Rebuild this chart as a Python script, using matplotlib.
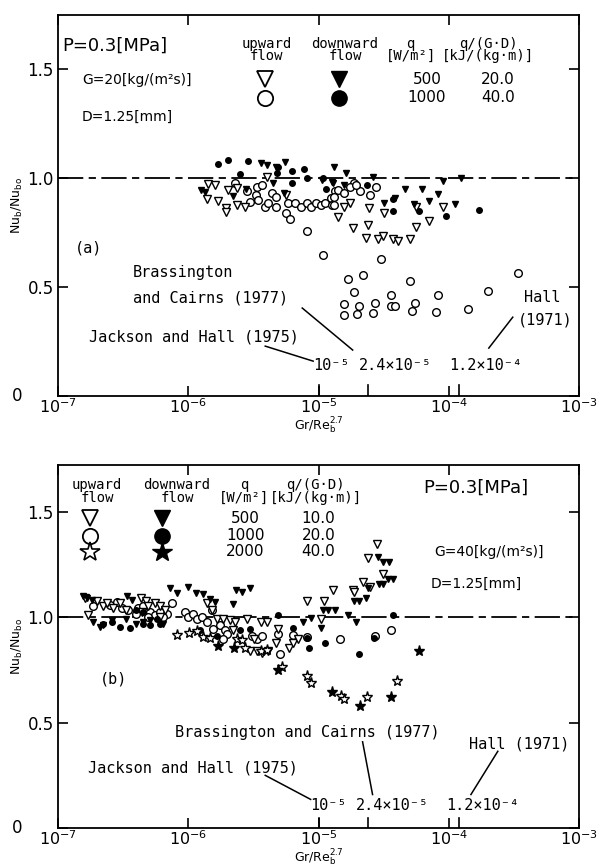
import matplotlib
matplotlib.use("Agg")
import matplotlib.pyplot as plt

# ---------------- panel (a) data : G=20 ----------------
a_up500_x = [1.42e-6, 1.6e-6, 1.4e-6, 1.7e-6, 1.96e-6, 1.96e-6, 2.38e-6, 2.75e-6, 2.03e-6, 2.38e-6,
             4.05e-6, 5.6e-6, 1.56e-5, 1.76e-5, 1.4e-5, 2.46e-5, 3.2e-5, 5.6e-5, 9.1e-5, 7.0e-5,
             1.83e-5, 2.38e-5, 5.6e-5, 2.3e-5, 2.84e-5, 3.1e-5, 3.7e-5, 4.05e-5, 5.0e-5]
a_up500_y = [0.972, 0.968, 0.904, 0.894, 0.862, 0.844, 0.876, 0.867, 0.945, 0.954,
             1.005, 0.922, 0.867, 0.885, 0.821, 0.862, 0.839, 0.867, 0.867, 0.803,
             0.771, 0.784, 0.775, 0.725, 0.720, 0.734, 0.720, 0.711, 0.720]

a_dn500_x = [3.6e-6, 4.0e-6, 4.7e-6, 5.5e-6, 1.31e-5, 4.5e-6, 5.4e-6, 2.2e-6, 1.35e-6, 1.26e-6,
             1.28e-5, 1.07e-5, 2.8e-6, 1.64e-5, 2.6e-5, 9.1e-5, 1.24e-4, 4.6e-5, 6.2e-5, 8.2e-5,
             3.2e-5, 3.9e-5, 5.4e-5, 7.1e-5, 1.11e-4, 1.3e-5, 1.56e-5]
a_dn500_y = [1.069, 1.060, 1.050, 1.073, 1.050, 0.977, 0.931, 0.917, 0.936, 0.945,
             0.982, 0.991, 0.950, 1.023, 1.005, 0.986, 1.0, 0.950, 0.950, 0.927,
             0.885, 0.908, 0.881, 0.894, 0.881, 0.977, 0.968]

a_up1000_x = [2.3e-6, 2.84e-6, 3.4e-6, 3.7e-6, 3.3e-6, 4.4e-6, 4.7e-6, 3.9e-6, 4.1e-6, 4.75e-6,
              5.8e-6, 5.6e-6, 6.0e-6, 6.6e-6, 7.3e-6, 8.2e-6, 8.7e-6, 9.5e-6, 1.04e-5, 1.13e-5,
              1.24e-5, 1.28e-5, 1.35e-5, 3.0e-6, 3.45e-6, 8.2e-6, 1.09e-5, 1.86e-5, 1.76e-5, 1.4e-5,
              1.56e-5, 2.07e-5, 1.31e-5, 2.5e-5, 2.75e-5, 1.93e-5, 1.31e-5, 3.0e-5, 2.2e-5, 1.67e-5,
              5.0e-5, 3.4e-4, 1.86e-5, 2.0e-4, 1.56e-5, 2.03e-5, 2.7e-5, 3.6e-5, 3.6e-5, 3.85e-5,
              5.5e-5, 8.2e-5, 1.4e-4, 1.56e-5, 1.96e-5, 2.6e-5, 5.2e-5, 8.0e-5]
a_up1000_y = [0.977, 0.940, 0.959, 0.968, 0.922, 0.931, 0.913, 0.867, 0.885, 0.867,
              0.885, 0.839, 0.812, 0.885, 0.867, 0.885, 0.867, 0.885, 0.876, 0.885,
              0.908, 0.876, 0.940, 0.890, 0.899, 0.757, 0.647, 0.977, 0.959, 0.945,
              0.931, 0.940, 0.913, 0.922, 0.959, 0.968, 0.876, 0.628, 0.555, 0.537,
              0.528, 0.564, 0.477, 0.482, 0.422, 0.413, 0.427, 0.463, 0.413, 0.413,
              0.427, 0.463, 0.399, 0.372, 0.376, 0.381, 0.390, 0.385]

a_dn1000_x = [1.7e-6, 2.03e-6, 2.89e-6, 6.3e-6, 7.8e-6, 4.9e-6, 4.8e-6, 2.5e-6, 6.3e-6, 8.1e-6,
              1.09e-5, 1.15e-5, 2.34e-5, 3.7e-5, 3.7e-5, 5.9e-5, 9.6e-5, 1.7e-4]
a_dn1000_y = [1.064, 1.083, 1.078, 1.032, 1.041, 1.050, 1.023, 1.018, 0.977, 1.0,
              1.0, 0.950, 0.968, 0.904, 0.849, 0.849, 0.826, 0.853]

# ---------------- panel (b) data : G=40 ----------------
b_up500_x = [1.6e-7, 2.0e-7, 2.2e-7, 2.38e-7, 2.65e-7, 1.7e-7, 3.0e-7, 4.3e-7, 4.7e-7, 4.9e-7,
             5.6e-7, 6.1e-7, 6.6e-7, 6.1e-7, 4.4e-7, 3.3e-7, 1.4e-6, 1.53e-6, 1.67e-6, 1.86e-6,
             2.1e-6, 2.3e-6, 2.84e-6, 3.6e-6, 4.05e-6, 3.0e-6, 3.4e-6, 3.7e-6, 4.1e-6, 4.7e-6,
             5.9e-6, 6.4e-6, 7.0e-6, 4.9e-6, 3.2e-6, 2.2e-6, 8.2e-6, 1.11e-5, 1.3e-5, 1.83e-5,
             2.2e-5, 2.38e-5, 2.8e-5, 3.1e-5, 2.5e-5, 1.04e-5, 1.86e-5]
b_up500_y = [1.091, 1.077, 1.055, 1.068, 1.045, 1.009, 1.068, 1.091, 1.077, 1.055,
             1.068, 1.055, 1.036, 1.0, 1.023, 1.032, 1.068, 1.036, 0.991, 0.991,
             0.986, 0.977, 0.991, 0.977, 0.977, 0.841, 0.841, 0.832, 0.841, 0.877,
             0.855, 0.877, 0.895, 0.945, 0.895, 0.941, 1.077, 1.077, 1.127, 1.127,
             1.168, 1.282, 1.345, 1.205, 1.145, 0.991, 1.118]

b_dn500_x = [1.56e-7, 1.67e-7, 1.83e-7, 3.4e-7, 3.7e-7, 7.3e-7, 8.2e-7, 1.0e-6, 1.15e-6, 1.3e-6,
             1.48e-6, 1.6e-6, 2.2e-6, 2.34e-6, 2.6e-6, 3.0e-6, 2.1e-7, 2.2e-7, 2.6e-7, 3.3e-7,
             4.0e-7, 4.5e-7, 5.1e-7, 6.4e-7, 1.86e-7, 7.6e-6, 8.7e-6, 1.05e-5, 1.09e-5, 1.19e-5,
             1.35e-5, 1.67e-5, 1.93e-5, 1.86e-5, 2.03e-5, 2.3e-5, 2.38e-5, 2.9e-5, 3.1e-5, 3.4e-5,
             3.7e-5, 2.84e-5, 3.1e-5, 3.5e-5]
b_dn500_y = [1.100, 1.091, 1.082, 1.100, 1.082, 1.136, 1.114, 1.145, 1.114, 1.109,
             1.086, 1.073, 1.064, 1.127, 1.118, 1.136, 0.955, 0.964, 0.986, 0.991,
             0.968, 0.977, 0.986, 0.968, 0.977, 0.977, 0.995, 0.950, 1.036, 1.036,
             1.036, 1.009, 0.977, 1.077, 1.077, 1.091, 1.136, 1.159, 1.159, 1.182,
             1.182, 1.286, 1.259, 1.259]

b_up1000_x = [1.86e-7, 2.5e-7, 2.84e-7, 3.1e-7, 3.45e-7, 4.1e-7, 4.5e-7, 5.1e-7, 5.6e-7, 6.1e-7,
              6.9e-7, 7.5e-7, 9.5e-7, 1.0e-6, 1.09e-6, 1.17e-6, 1.28e-6, 1.4e-6, 1.53e-6, 1.56e-6,
              1.76e-6, 1.93e-6, 2.0e-6, 1.86e-6, 3.1e-6, 3.4e-6, 3.7e-6, 4.9e-6, 5.1e-6, 4.0e-7,
              4.9e-7, 6.4e-7, 6.4e-6, 8.2e-6, 1.45e-5, 2.7e-5, 3.6e-5]
b_up1000_y = [1.055, 1.059, 1.073, 1.045, 1.036, 1.045, 1.055, 1.023, 1.009, 1.023,
              1.014, 1.068, 1.023, 1.0, 1.014, 0.991, 1.0, 0.977, 1.032, 0.945,
              0.964, 0.941, 0.918, 0.895, 0.909, 0.895, 0.909, 0.918, 0.827, 1.014,
              1.0, 1.0, 0.914, 0.905, 0.895, 0.909, 0.941]

b_dn1000_x = [2.2e-7, 2.6e-7, 3.0e-7, 3.6e-7, 4.5e-7, 5.1e-7, 5.8e-7, 6.1e-7, 4.0e-7, 4.5e-7,
              1.24e-6, 1.67e-6, 2.5e-6, 3.0e-6, 4.85e-6, 6.4e-6, 8.2e-6, 8.5e-6, 1.13e-5, 2.03e-5,
              2.65e-5, 3.7e-5]
b_dn1000_y = [0.968, 0.977, 0.955, 0.950, 0.968, 0.964, 0.991, 0.968, 1.032, 1.023,
              0.941, 0.909, 0.941, 0.945, 1.009, 0.950, 0.900, 0.855, 0.877, 0.827,
              0.900, 1.009]

b_up2000_x = [8.2e-7, 1.02e-6, 1.17e-6, 1.3e-6, 1.48e-6, 2.38e-6, 2.6e-6, 2.75e-6, 3.6e-6, 4.05e-6,
              5.2e-6, 8.2e-6, 8.8e-6, 1.48e-5, 1.58e-5, 2.34e-5, 4.0e-5]
b_up2000_y = [0.914, 0.923, 0.932, 0.905, 0.900, 0.895, 0.891, 0.855, 0.841, 0.845,
              0.764, 0.723, 0.686, 0.627, 0.614, 0.623, 0.695]

b_dn2000_x = [1.7e-6, 2.26e-6, 4.9e-6, 1.26e-5, 2.1e-5, 3.6e-5, 5.9e-5]
b_dn2000_y = [0.864, 0.855, 0.750, 0.645, 0.577, 0.623, 0.841]

# reference Gr/Re^2.7 criteria marked on the axis
criteria = [1e-5, 2.4e-5, 1.2e-4]

mono = "DejaVu Sans Mono"
plt.rcParams["font.family"] = "DejaVu Sans"


def pts(ax, x, y, marker, filled, ms):
    ax.plot(x, y, ls="none", marker=marker, ms=ms, mec="black",
            mfc="black" if filled else "white", mew=1.0)


def setup(ax, top):
    ax.set_xscale("log")
    ax.set_xlim(1e-7, 1e-3)
    ax.set_ylim(0, top)
    ax.set_xticks([1e-7, 1e-6, 1e-5, 1e-4, 1e-3])
    ax.set_xticklabels(["$10^{-7}$", "$10^{-6}$", "$10^{-5}$", "$10^{-4}$", "$10^{-3}$"])
    ax.minorticks_off()
    ax.set_yticks([0, 0.5, 1.0, 1.5])
    ax.set_yticklabels(["", "0.5", "1.0", "1.5"])
    ax.tick_params(direction="in", length=7, width=1.2, top=True, right=True,
                   labelsize=12, pad=3)
    ax.tick_params(axis="x", pad=1, labelsize=11.5)
    for s in ax.spines.values():
        s.set_linewidth(1.3)
    ax.text(-0.068, 0.0, "0", transform=ax.transAxes, fontsize=12, ha="right", va="center")
    ax.axhline(1.0, color="black", lw=1.3, ls=(0, (14, 3, 4, 3)), zorder=1)
    ax.set_xlabel(r"Gr/Re$_{\mathrm{b}}^{2.7}$", fontsize=9, labelpad=0)
    ax.set_ylabel(r"Nu$_{\mathrm{b}}$/Nu$_{\mathrm{bo}}$", fontsize=9, labelpad=2)
    for c in criteria:
        ax.plot([c, c], [0, 0.05], color="black", lw=1.2)


fig = plt.figure(figsize=(6.03, 8.68), dpi=100)
ax1 = fig.add_axes([0.0962, 0.5438, 0.864, 0.4389])
ax2 = fig.add_axes([0.0962, 0.046, 0.864, 0.418])

# ----- panel (a)
setup(ax1, 1.75)
pts(ax1, a_up1000_x, a_up1000_y, "o", False, 5.5)
pts(ax1, a_up500_x, a_up500_y, "v", False, 5.5)
pts(ax1, a_dn500_x, a_dn500_y, "v", True, 4.5)
pts(ax1, a_dn1000_x, a_dn1000_y, "o", True, 4.0)

ax1.text(1.07e-7, 1.61, "P=0.3[MPa]", fontsize=13, va="center")
ax1.text(1.53e-7, 1.45, "G=20[kg/(m²s)]", fontsize=10, va="center")
ax1.text(1.53e-7, 1.28, "D=1.25[mm]", fontsize=10, va="center")
ax1.text(4.0e-6, 1.59, "upward\nflow", fontsize=10, family=mono, ha="center", va="center", linespacing=0.85)
ax1.text(1.6e-5, 1.59, "downward\nflow", fontsize=10, family=mono, ha="center", va="center", linespacing=0.85)
ax1.text(5.1e-5, 1.59, "q\n[W/m²]", fontsize=10, family=mono, ha="center", va="center", linespacing=0.85)
ax1.text(2.0e-4, 1.59, "q/(G·D)\n[kJ/(kg·m)]", fontsize=10, family=mono, ha="center", va="center", linespacing=0.85)
ax1.plot([3.9e-6], [1.455], "v", ms=12, mfc="white", mec="black", mew=1.3)
ax1.plot([1.43e-5], [1.455], "v", ms=12, mfc="black", mec="black")
ax1.plot([3.9e-6], [1.37], "o", ms=11, mfc="white", mec="black", mew=1.3)
ax1.plot([1.43e-5], [1.37], "o", ms=11, mfc="black", mec="black")
ax1.text(6.8e-5, 1.455, "500", fontsize=11, ha="center", va="center")
ax1.text(2.38e-4, 1.455, "20.0", fontsize=11, ha="center", va="center")
ax1.text(6.8e-5, 1.37, "1000", fontsize=11, ha="center", va="center")
ax1.text(2.38e-4, 1.37, "40.0", fontsize=11, ha="center", va="center")
ax1.text(1.35e-7, 0.68, "(a)", fontsize=11, family=mono, va="center")

ax1.text(3.78e-7, 0.569, "Brassington", fontsize=11, family=mono, va="center")
ax1.text(3.78e-7, 0.45, "and Cairns (1977)", fontsize=11, family=mono, va="center")
ax1.text(1.74e-7, 0.271, "Jackson and Hall (1975)", fontsize=11, family=mono, va="center")
ax1.text(3.78e-4, 0.454, "Hall", fontsize=11, family=mono, va="center")
ax1.text(3.4e-4, 0.349, "(1971)", fontsize=11, family=mono, va="center")
ax1.text(9.1e-6, 0.142, "10⁻⁵", fontsize=11, family=mono, va="center")
ax1.text(2.03e-5, 0.142, "2.4×10⁻⁵", fontsize=11, family=mono, va="center")
ax1.text(1.0e-4, 0.142, "1.2×10⁻⁴", fontsize=11, family=mono, va="center")
ax1.plot([3.9e-6, 9.1e-6], [0.229, 0.16], color="black", lw=1.1)
ax1.plot([7.5e-6, 1.83e-5], [0.404, 0.211], color="black", lw=1.1)
ax1.plot([3.1e-4, 2.03e-4], [0.362, 0.22], color="black", lw=1.1)

# ----- panel (b)
setup(ax2, 1.72)
pts(ax2, b_up1000_x, b_up1000_y, "o", False, 5.5)
pts(ax2, b_up500_x, b_up500_y, "v", False, 5.5)
pts(ax2, b_dn500_x, b_dn500_y, "v", True, 4.5)
pts(ax2, b_dn1000_x, b_dn1000_y, "o", True, 4.0)
pts(ax2, b_up2000_x, b_up2000_y, "*", False, 8)
pts(ax2, b_dn2000_x, b_dn2000_y, "*", True, 8)

ax2.text(2.0e-7, 1.595, "upward\nflow", fontsize=10, family=mono, ha="center", va="center", linespacing=0.85)
ax2.text(8.2e-7, 1.595, "downward\nflow", fontsize=10, family=mono, ha="center", va="center", linespacing=0.85)
ax2.text(2.7e-6, 1.595, "q\n[W/m²]", fontsize=10, family=mono, ha="center", va="center", linespacing=0.85)
ax2.text(9.5e-6, 1.595, "q/(G·D)\n[kJ/(kg·m)]", fontsize=10, family=mono, ha="center", va="center", linespacing=0.85)
ax2.text(6.4e-5, 1.614, "P=0.3[MPa]", fontsize=13, va="center")
ax2.plot([1.76e-7], [1.468], "v", ms=12, mfc="white", mec="black", mew=1.3)
ax2.plot([6.3e-7], [1.468], "v", ms=12, mfc="black", mec="black")
ax2.plot([1.76e-7], [1.386], "o", ms=11, mfc="white", mec="black", mew=1.3)
ax2.plot([6.3e-7], [1.386], "o", ms=11, mfc="black", mec="black")
ax2.plot([1.76e-7], [1.309], "*", ms=15, mfc="white", mec="black", mew=1.2)
ax2.plot([6.3e-7], [1.309], "*", ms=15, mfc="black", mec="black")
ax2.text(2.74e-6, 1.468, "500", fontsize=11, ha="center", va="center")
ax2.text(1.0e-5, 1.468, "10.0", fontsize=11, ha="center", va="center")
ax2.text(2.74e-6, 1.386, "1000", fontsize=11, ha="center", va="center")
ax2.text(1.0e-5, 1.386, "20.0", fontsize=11, ha="center", va="center")
ax2.text(2.74e-6, 1.309, "2000", fontsize=11, ha="center", va="center")
ax2.text(1.0e-5, 1.309, "40.0", fontsize=11, ha="center", va="center")
ax2.text(7.7e-5, 1.309, "G=40[kg/(m²s)]", fontsize=10, va="center")
ax2.text(7.3e-5, 1.159, "D=1.25[mm]", fontsize=10, va="center")
ax2.text(2.1e-7, 0.705, "(b)", fontsize=11, family=mono, va="center")

ax2.text(7.9e-7, 0.455, "Brassington and Cairns (1977)", fontsize=11, family=mono, va="center")
ax2.text(1.43e-4, 0.40, "Hall (1971)", fontsize=11, family=mono, va="center")
ax2.text(1.7e-7, 0.286, "Jackson and Hall (1975)", fontsize=11, family=mono, va="center")
ax2.text(8.7e-6, 0.105, "10⁻⁵", fontsize=11, family=mono, va="center")
ax2.text(1.93e-5, 0.105, "2.4×10⁻⁵", fontsize=11, family=mono, va="center")
ax2.text(9.5e-5, 0.105, "1.2×10⁻⁴", fontsize=11, family=mono, va="center")
ax2.plot([3.9e-6, 8.7e-6], [0.25, 0.136], color="black", lw=1.1)
ax2.plot([2.18e-5, 2.6e-5], [0.409, 0.159], color="black", lw=1.1)
ax2.plot([2.38e-4, 1.48e-4], [0.364, 0.159], color="black", lw=1.1)

fig.savefig("out.png", dpi=100)
